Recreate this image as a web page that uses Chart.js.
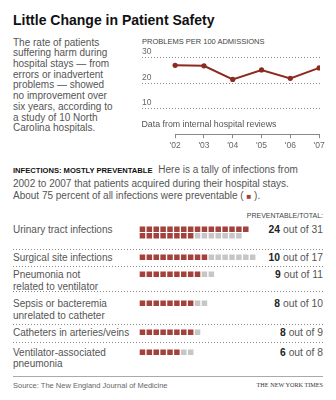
<!DOCTYPE html>
<html>
<head>
<meta charset="utf-8">
<script src="https://cdn.jsdelivr.net/npm/chart.js@4.4.1/dist/chart.umd.min.js"></script>
<style>
  body { margin: 0; background: #fff; }
  #page { position: relative; width: 336px; height: 400px; overflow: hidden;
          font-family: "Liberation Sans", Arial, sans-serif; color: #555; }
  .t { position: absolute; white-space: nowrap; }
  .sep { position: absolute; left: 13px; width: 310px; height: 1px;
         background: repeating-linear-gradient(to right, #8a8a8a 0 1px, transparent 1px 3px); }
  canvas { position: absolute; }
</style>
</head>
<body>
<div id="page">
  <div class="t" style="left:13px; top:12px; font-size:14px; line-height:16px; font-weight:bold; color:#111;">Little Change in Patient Safety</div>

  <div class="t" style="left:13px; top:37.6px; font-size:10px; line-height:10.7px;">The rate of patients<br>suffering harm during<br>hospital stays — from<br>errors or inadvertent<br>problems — showed<br>no improvement over<br>six years, according to<br>a study of 10 North<br>Carolina hospitals.</div>

  <div class="t" style="left:142px; top:37px; font-size:7.5px; line-height:10px; color:#444;">PROBLEMS PER 100 ADMISSIONS</div>
  <canvas id="lineChart" width="200" height="120" style="left:130px; top:40px;"></canvas>
  <div class="t" style="left:141.5px; top:118.5px; font-size:8.8px; line-height:11px;">Data from internal hospital reviews</div>

  <div class="t" style="left:13px; top:164.2px; font-size:10px; line-height:12.5px;"><b style="font-size:7.6px; color:#111; margin-right:3px;">INFECTIONS: MOSTLY PREVENTABLE</b> Here is a tally of infections from<br>2002 to 2007 that patients acquired during their hospital stays.<br>About 75 percent of all infections were preventable ( <span style="color:#a3423c; font-size:8px;">■</span> ).</div>

  <div class="t" style="right:13px; top:211px; font-size:7px; line-height:9.4px; color:#444;">PREVENTABLE/TOTAL:</div>

  <div id="rows"></div>

  <div style="position:absolute; left:13px; top:376px; width:310px; height:1px; background:#aaa;"></div>
  <div class="t" style="left:13px; top:380.5px; font-size:7.5px; line-height:9px; color:#666;">Source: The New England Journal of Medicine</div>
  <div class="t" style="right:13px; top:381px; font-size:6.2px; line-height:8px; color:#333; font-family:'Liberation Serif', serif;">THE NEW YORK TIMES</div>
</div>

<script>
// line chart
const years = [2002, 2003, 2004, 2005, 2006, 2007];
const yearLabels = ["'02", "'03", "'04", "'05", "'06", "'07"];
const problemsPer100 = [27.0, 26.8, 21.5, 25.2, 21.9, 26.0];
const yTicks = [10, 20, 30];

// infections
const infectionLabels = [
  ["Urinary tract infections"],
  ["Surgical site infections"],
  ["Pneumonia not", "related to ventilator"],
  ["Sepsis or bacteremia", "unrelated to catheter"],
  ["Catheters in arteries/veins"],
  ["Ventilator-associated", "pneumonia"]
];
const preventable = [24, 10, 9, 8, 8, 6];
const total = [31, 17, 11, 10, 9, 8];

// layout (page pixels): centre of first text line per row, dotted lines
const rowY = [230, 257.5, 275, 304, 332.5, 352.5];
const sepY = [248.5, 266, 290.5, 323.5, 341.5];

const LINE_RED = '#8c2c20';
const RED = '#a3423c';
const GREY = '#c6c6c6';
const FONT = '"Liberation Sans", Arial, sans-serif';

// axis line only between first and last year
const axisLine = {
  id: 'axisLine',
  afterDraw(chart) {
    const { ctx, scales: { x, y } } = chart;
    const yy = Math.round(y.getPixelForValue(0)) + 0.5;
    ctx.save();
    ctx.strokeStyle = '#888';
    ctx.lineWidth = 1;
    ctx.beginPath();
    ctx.moveTo(x.getPixelForValue(years[0]), yy);
    ctx.lineTo(x.getPixelForValue(years[years.length - 1]), yy);
    ctx.stroke();
    ctx.restore();
  }
};

new Chart(document.getElementById('lineChart'), {
  type: 'line',
  data: {
    datasets: [{
      data: years.map((yr, i) => ({ x: yr, y: problemsPer100[i] })),
      borderColor: LINE_RED,
      backgroundColor: LINE_RED,
      borderWidth: 2,
      pointRadius: 2.6,
      pointBorderWidth: 0,
      tension: 0
    }]
  },
  options: {
    responsive: false,
    animation: false,
    events: [],
    layout: { autoPadding: false, padding: { left: 12, right: 10, top: 17.7, bottom: 7.6 } },
    plugins: { legend: { display: false }, tooltip: { enabled: false } },
    scales: {
      x: {
        type: 'linear',
        min: 2000.85,
        max: 2007.03,
        afterBuildTicks: s => { s.ticks = years.map(v => ({ value: v })); },
        afterFit: s => { s.paddingLeft = 0; s.paddingRight = 0; },
        ticks: {
          autoSkip: false, maxRotation: 0, padding: 2, color: '#666',
          font: { size: 8.5, family: FONT },
          callback: v => yearLabels[years.indexOf(v)]
        },
        grid: { drawOnChartArea: false, tickLength: 4, color: '#888' },
        border: { display: false }
      },
      y: {
        min: 0,
        max: 30,
        afterBuildTicks: s => { s.ticks = yTicks.map(v => ({ value: v })); },
        afterFit: s => { s.paddingTop = 0; s.paddingBottom = 0; },
        ticks: {
          mirror: true, padding: 0, labelOffset: -6, color: '#666',
          font: { size: 8.5, family: FONT }
        },
        grid: { drawTicks: false, color: '#8a8a8a' },
        border: { display: false, dash: [1, 2] }
      }
    }
  },
  plugins: [axisLine]
});

// rows of squares
const rows = document.getElementById('rows');
sepY.forEach(y => {
  const d = document.createElement('div');
  d.className = 'sep';
  d.style.top = y + 'px';
  rows.appendChild(d);
});

infectionLabels.forEach((lines, i) => {
  const lab = document.createElement('div');
  lab.className = 't';
  lab.style.cssText = `left:13px; top:${rowY[i] - 5.75}px; font-size:10px; line-height:11.5px;`;
  lab.innerHTML = lines.join('<br>');
  rows.appendChild(lab);

  const cnt = document.createElement('div');
  cnt.className = 't';
  cnt.style.cssText = `right:13px; top:${rowY[i] - 6}px; font-size:10.3px; line-height:12px;`;
  cnt.innerHTML = `<b style="color:#222">${preventable[i]}</b> out of ${total[i]}`;
  rows.appendChild(cnt);

  const cv = document.createElement('canvas');
  cv.width = 124;
  cv.height = 13;
  cv.style.left = '139px';
  cv.style.top = (rowY[i] - 0.5 - 3.25) + 'px';
  rows.appendChild(cv);

  const perRow = total[i] > 17 ? Math.ceil(total[i] / 2) : total[i];
  const pts = [];
  for (let k = 0; k < total[i]; k++) pts.push({ x: k % perRow, y: Math.floor(k / perRow) });

  new Chart(cv, {
    type: 'scatter',
    data: {
      datasets: [{
        data: pts,
        pointStyle: 'rect',
        pointRadius: 3.9,
        borderWidth: 0,
        backgroundColor: pts.map((p, k) => k < preventable[i] ? RED : GREY)
      }]
    },
    options: {
      responsive: false,
      animation: false,
      events: [],
      layout: { autoPadding: false, padding: 0 },
      plugins: { legend: { display: false }, tooltip: { enabled: false } },
      scales: {
        x: { display: false, min: -0.5, max: 17.5 },
        y: { display: false, min: -0.5, max: 1.5, reverse: true }
      }
    }
  });
});
</script>
</body>
</html>
